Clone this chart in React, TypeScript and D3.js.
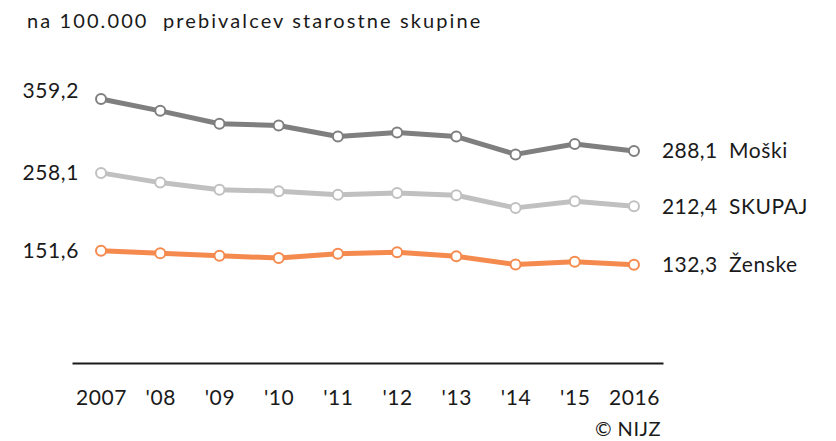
import React, { useEffect, useRef } from 'react';
import * as d3 from 'd3';

// years on the x axis
const years = ['2007', "'08", "'09", "'10", "'11", "'12", "'13", "'14", "'15", '2016'];

// rate per 100.000 of the age group
const moski = [359.2, 343.0, 325.3, 322.9, 307.8, 313.3, 307.8, 283.4, 297.7, 288.1];
const skupaj = [258.1, 244.8, 235.1, 233.0, 228.3, 230.6, 227.4, 210.2, 219.3, 212.4];
const zenske = [151.6, 148.0, 144.7, 141.6, 147.5, 149.4, 143.9, 132.8, 136.4, 132.3];

const seriesNames = ['Moški', 'SKUPAJ', 'Ženske'];
const seriesColors = ['#7f7f7f', '#c0c0c0', '#f58a4e'];

const fmt = (v: number) => v.toFixed(1).replace('.', ',');

const W = 836;
const H = 441;
const FONT = 'Lato, "Open Sans", sans-serif';

const App = () => {
    const svgRef = useRef<SVGSVGElement | null>(null);

    useEffect(() => {
        if (!svgRef.current) return;
        const svg = d3.select(svgRef.current);
        svg.selectAll('*').remove();

        const series = [moski, skupaj, zenske];
        const baseY = 363;

        const x = d3.scalePoint<string>()
            .domain(years)
            .range([72, 663])
            .padding(0.49);

        const y = d3.scaleLinear()
            .domain([0, 359.2])
            .range([361.5, 99]);

        // title
        svg.append('text')
            .attr('x', 27)
            .attr('y', 28)
            .attr('font-family', FONT)
            .attr('font-size', 20)
            .attr('letter-spacing', 2.1)
            .attr('fill', '#1a1a1a')
            .style('white-space', 'pre')
            .text('na 100.000  prebivalcev starostne skupine');

        // x axis
        const axis = svg.append('g')
            .attr('transform', `translate(0,${baseY})`)
            .call(d3.axisBottom(x).tickSize(0).tickSizeOuter(0).tickPadding(27));
        axis.select('.domain').attr('stroke', '#1a1a1a').attr('stroke-width', 2);
        axis.selectAll('.tick text')
            .attr('font-family', FONT)
            .attr('font-size', 21)
            .attr('letter-spacing', 0.6)
            .attr('fill', '#1a1a1a');

        const line = d3.line<number>()
            .x((_, i) => x(years[i]) || 0)
            .y(d => y(d));

        series.forEach((vals, si) => {
            const color = seriesColors[si];
            svg.append('path')
                .datum(vals)
                .attr('fill', 'none')
                .attr('stroke', color)
                .attr('stroke-width', 5)
                .attr('stroke-linejoin', 'round')
                .attr('d', line);

            svg.selectAll(`.dot-${si}`)
                .data(vals)
                .enter()
                .append('circle')
                .attr('cx', (_, i) => x(years[i]) || 0)
                .attr('cy', d => y(d))
                .attr('r', 5)
                .attr('fill', '#fff')
                .attr('stroke', color)
                .attr('stroke-width', 2);

            const first = vals[0];
            const last = vals[vals.length - 1];

            // start value on the left
            svg.append('text')
                .attr('x', 79)
                .attr('y', y(first) + (si === 0 ? -1 : 7.5))
                .attr('text-anchor', 'end')
                .attr('font-family', FONT)
                .attr('font-size', 21)
                .attr('letter-spacing', 0.6)
                .attr('fill', '#1a1a1a')
                .text(fmt(first));

            // end value and name on the right
            svg.append('text')
                .attr('x', 662)
                .attr('y', y(last) + 7.5)
                .attr('font-family', FONT)
                .attr('font-size', 21)
                .attr('letter-spacing', 0.4)
                .attr('fill', '#1a1a1a')
                .text(fmt(last));

            svg.append('text')
                .attr('x', 729)
                .attr('y', y(last) + 7.5)
                .attr('font-family', FONT)
                .attr('font-size', 21)
                .attr('letter-spacing', 0.6)
                .attr('fill', '#1a1a1a')
                .text(seriesNames[si]);
        });

        // source
        svg.append('text')
            .attr('x', 661)
            .attr('y', 436)
            .attr('text-anchor', 'end')
            .attr('font-family', FONT)
            .attr('font-size', 20)
            .attr('letter-spacing', 0.5)
            .attr('fill', '#1a1a1a')
            .text('© NIJZ');
    }, []);

    return (
        <svg
            ref={svgRef}
            width={W}
            height={H}
            style={{ position: 'absolute', left: 0, top: 0, background: '#fff' }}
        />
    );
};

export default App;
